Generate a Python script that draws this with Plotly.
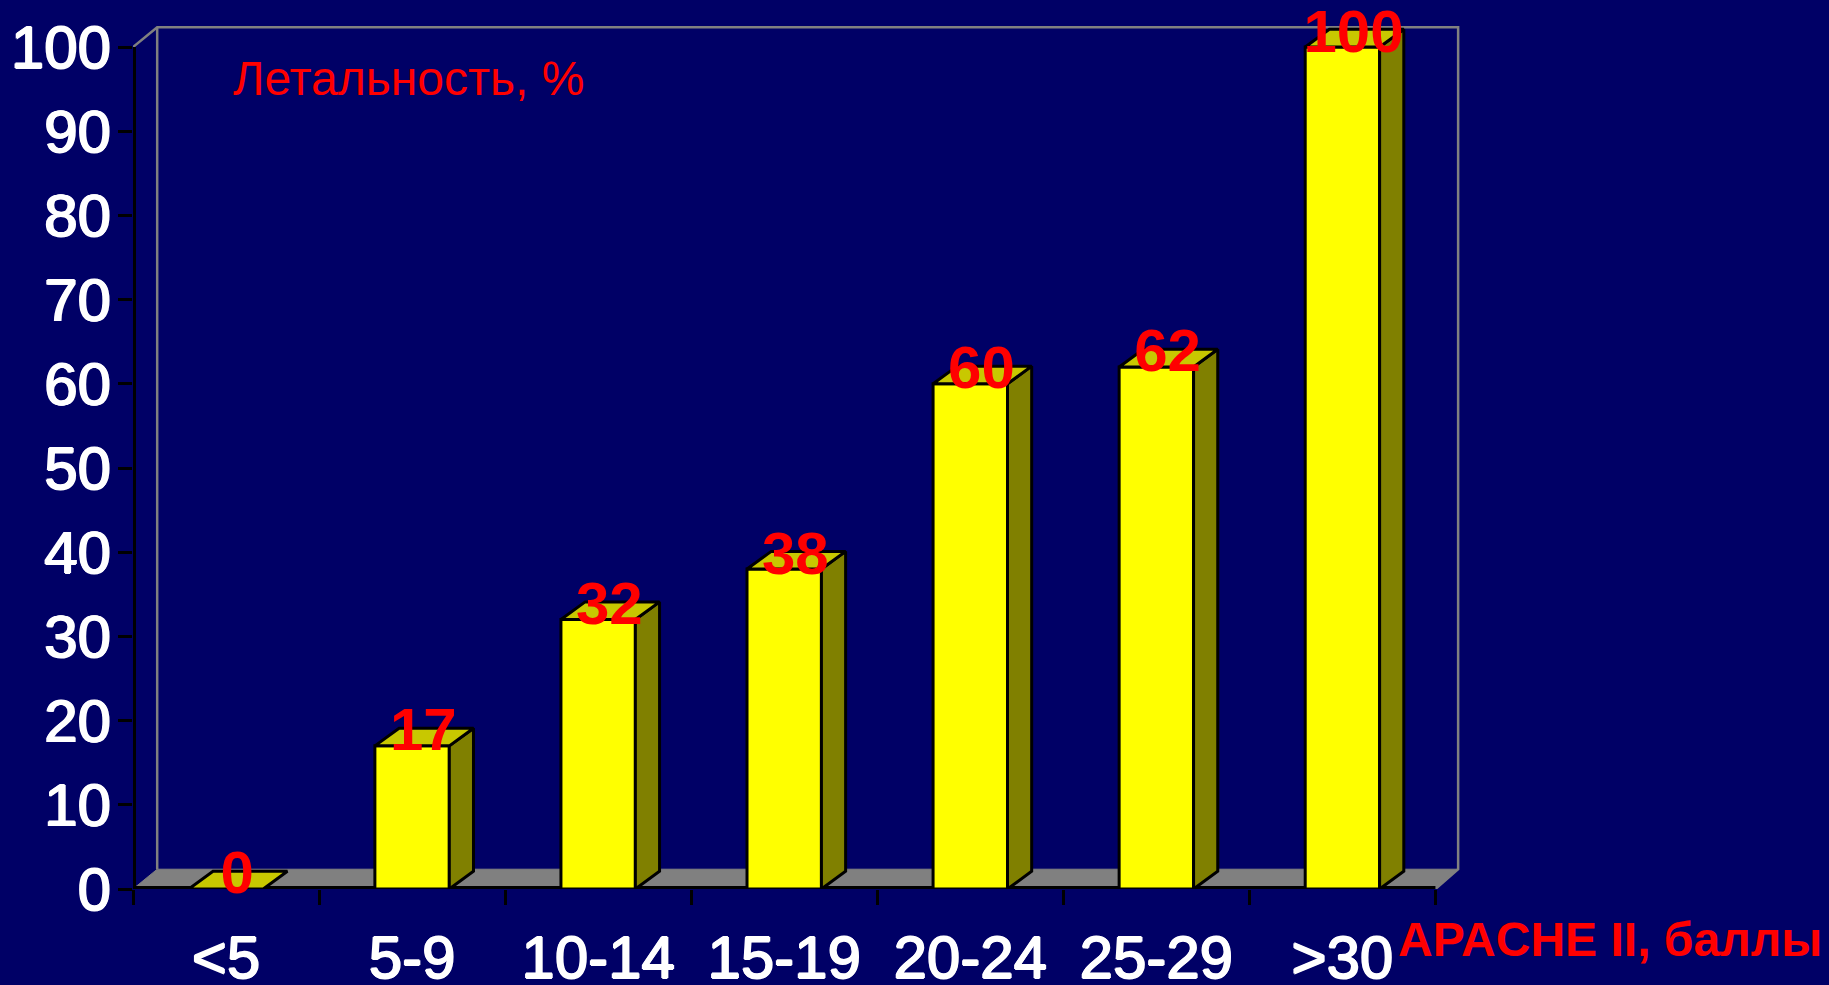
import plotly.graph_objects as go

# Mortality by APACHE II score band
categories = ["<5", "5-9", "10-14", "15-19", "20-24", "25-29", ">30"]
mortality = [0, 17, 32, 38, 60, 62, 100]
y_ticks = [0, 10, 20, 30, 40, 50, 60, 70, 80, 90, 100]

# Pseudo-3D depth, in axis units
BAR_WIDTH = 0.40
BAR_DX, BAR_DY = 0.13, 2.1
WALL_DX, WALL_DY = 0.122, 2.35
LEFT_WALL_DX = 0.13

BG = "#000066"
YELLOW = "#FFFF00"
TOP = "#C8C800"
SIDE = "#808000"
GRAY = "#808080"
RED = "#FF0000"
FONT = "Liberation Sans"
WHITE_HALO = "0.9px 0 0 white, -0.9px 0 0 white, 0 0.6px 0 white, 0 -0.6px 0 white"

positions = list(range(len(categories)))
x_lo, x_hi = -0.5, len(categories) - 0.5
y_lo, y_hi = 0, 100
# The visible ranges leave room for the depth of the box
x_max = x_hi + WALL_DX + 0.01
y_max = y_hi + WALL_DY + 0.15

# Plot area in page pixels
LEFT, RIGHT, TOP_M, BOTTOM = 132.5, 369.4, 25.6, 95.5
plot_w, plot_h = 1829 - LEFT - RIGHT, 985 - TOP_M - BOTTOM


def page_x(px):
    return (px - LEFT) / plot_w


def page_y(px):
    return 1 - (px - TOP_M) / plot_h


fig = go.Figure()

# Floor and back wall sit on the base axes, beneath the bars
fig.add_trace(go.Scatter(
    x=[x_lo, x_hi, x_hi + WALL_DX, x_lo + LEFT_WALL_DX, x_lo],
    y=[y_lo, y_lo, y_lo + WALL_DY, y_lo + WALL_DY, y_lo],
    mode="lines", fill="toself", fillcolor=GRAY, line=dict(color=GRAY, width=1),
    hoverinfo="skip", showlegend=False,
))
fig.add_trace(go.Scatter(
    x=[x_lo, x_lo + LEFT_WALL_DX, x_hi + WALL_DX, x_hi + WALL_DX, x_hi, None,
       x_lo + LEFT_WALL_DX, x_lo + LEFT_WALL_DX],
    y=[y_hi, y_hi + WALL_DY, y_hi + WALL_DY, y_lo + WALL_DY, y_lo, None,
       y_hi + WALL_DY, y_lo + WALL_DY],
    mode="lines", line=dict(color=GRAY, width=2.5),
    hoverinfo="skip", showlegend=False,
))

# Axis lines stop at the front of the box, short of the depth allowance
fig.add_trace(go.Scatter(
    x=[x_lo, x_lo, x_hi], y=[y_hi, y_lo, y_lo],
    mode="lines", line=dict(color="black", width=6),
    hoverinfo="skip", showlegend=False,
))

# Front faces
fig.add_trace(go.Bar(
    x=positions, y=mortality, width=BAR_WIDTH, xaxis="x2", yaxis="y2",
    marker=dict(color=YELLOW, line=dict(color="black", width=3)),
    hoverinfo="skip", showlegend=False,
))

# Side and top faces derived from each bar's value
side_x, side_y, top_x, top_y = [], [], [], []
for pos, val in zip(positions, mortality):
    left, right = pos - BAR_WIDTH / 2, pos + BAR_WIDTH / 2
    if val > 0:
        side_x += [right, right + BAR_DX, right + BAR_DX, right, right, None]
        side_y += [0, BAR_DY, val + BAR_DY, val, 0, None]
    top_x += [left, right, right + BAR_DX, left + BAR_DX, left, None]
    top_y += [val, val, val + BAR_DY, val + BAR_DY, val, None]

for xs, ys, colour in ((side_x, side_y, SIDE), (top_x, top_y, TOP)):
    fig.add_trace(go.Scatter(
        x=xs, y=ys, xaxis="x2", yaxis="y2", mode="lines", fill="toself",
        fillcolor=colour, line=dict(color="black", width=3),
        hoverinfo="skip", showlegend=False,
    ))

# Value labels
fig.add_trace(go.Scatter(
    x=[p + 0.06 for p in positions], y=[v + 1.25 for v in mortality],
    xaxis="x2", yaxis="y2", mode="text",
    text=[str(v) for v in mortality], textposition="middle center",
    textfont=dict(family=FONT, size=60, color=RED, weight="bold"),
    cliponaxis=False, hoverinfo="skip", showlegend=False,
))

fig.update_layout(
    width=1829, height=985,
    margin=dict(l=LEFT, r=RIGHT, t=TOP_M, b=BOTTOM, autoexpand=False),
    paper_bgcolor=BG, plot_bgcolor=BG,
    barmode="overlay",
    xaxis=dict(
        range=[x_lo, x_max], tickmode="array", tickvals=positions, ticktext=categories,
        ticks="", ticklabelstandoff=28,
        tickfont=dict(family=FONT, size=60, color="white", shadow=WHITE_HALO),
        showgrid=False, zeroline=False, showline=False,
        minor=dict(tickmode="array", tickvals=[x_lo + i for i in range(len(categories) + 1)],
                   ticks="outside", ticklen=15, tickwidth=3, tickcolor="black", showgrid=False),
    ),
    yaxis=dict(
        range=[y_lo, y_max], tickmode="array", tickvals=y_ticks,
        ticks="outside", ticklen=14, tickwidth=3, tickcolor="black",
        ticklabelstandoff=-5,
        tickfont=dict(family=FONT, size=60, color="white", shadow=WHITE_HALO),
        showgrid=False, zeroline=False, showline=False,
    ),
    xaxis2=dict(range=[x_lo, x_max], overlaying="x", anchor="y2", visible=False),
    yaxis2=dict(range=[y_lo, y_max], overlaying="y", anchor="x2", visible=False),
    annotations=[
        dict(text="Летальность, %", x=page_x(231), y=page_y(78), xref="paper", yref="paper",
             showarrow=False, font=dict(family=FONT, size=48, color=RED),
             xanchor="left", yanchor="middle"),
        dict(text="APACHE II, баллы", x=page_x(1824), y=page_y(940), xref="paper", yref="paper",
             showarrow=False, font=dict(family=FONT, size=48, color=RED, weight="bold"),
             xanchor="right", yanchor="middle"),
    ],
)

fig.write_html("out.html")
